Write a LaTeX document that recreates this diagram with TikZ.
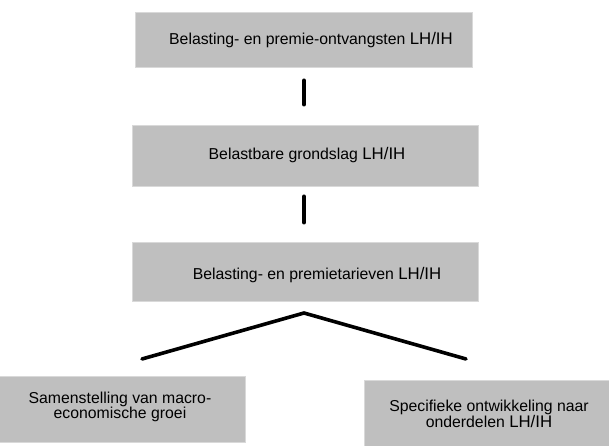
\documentclass[tikz,border=0pt]{standalone}
\usepackage{fontspec}
\setmainfont{Liberation Sans}
\begin{document}
\begin{tikzpicture}[x=1pt,y=1pt,
  box/.style={draw=black!15, line width=0.6pt, fill=black!25, inner sep=0pt},
  lbl/.style={font=\fontsize{15.8}{13.5}\selectfont, align=center, inner sep=0pt},
  conn/.style={line width=3.6pt, line cap=round, line join=miter}]
\newcommand{\lhih}{{\fontsize{16.8}{13.5}\selectfont LH/IH}}
\clip (0,0) rectangle (609,446);
\fill[white] (0,0) rectangle (609,446);
% boxes
\node[box, minimum width=337pt, minimum height=55pt] (b1) at (304,406.5) {};
\node[box, minimum width=346pt, minimum height=61pt] (b2) at (305,290.5) {};
\node[box, minimum width=346pt, minimum height=59pt] (b3) at (305,174.5) {};
\node[box, minimum width=250pt, minimum height=66pt] (bl) at (120,37) {};
\node[box, minimum width=250pt, minimum height=72pt] (br) at (489,30) {};
% texts
\node[lbl] (t1) at ([xshift=7pt,yshift=-1pt]b1.center) {Belasting- en premie-ontvangsten \lhih};
\node[lbl] (t2) at ([xshift=2pt,yshift=0pt]b2.center) {Belastbare grondslag \lhih};
\node[lbl] (t3) at ([xshift=12pt,yshift=-4pt]b3.center) {Belasting- en premietarieven \lhih};
\node[lbl] (tl) at ([xshift=0pt,yshift=2pt]bl.center) {Samenstelling van macro-\\economische groei};
\node[lbl] (tr) at ([xshift=0pt,yshift=2pt]br.center) {Specifieke ontwikkeling naar\\onderdelen \lhih};
% connectors
\draw[conn, shorten <=13pt, shorten >=20pt] (b1.south) -- (b1.south |- b2.north);
\draw[conn, shorten <=10pt, shorten >=19pt] ([xshift=-1pt]b2.south) -- ([xshift=-1pt]b2.south |- b3.north);
\coordinate (peak) at (304,133);
\coordinate (lend) at (142,87);
\coordinate (rend) at (466,87);
\draw[conn] (lend) -- (peak) -- (rend);
\end{tikzpicture}
\end{document}
